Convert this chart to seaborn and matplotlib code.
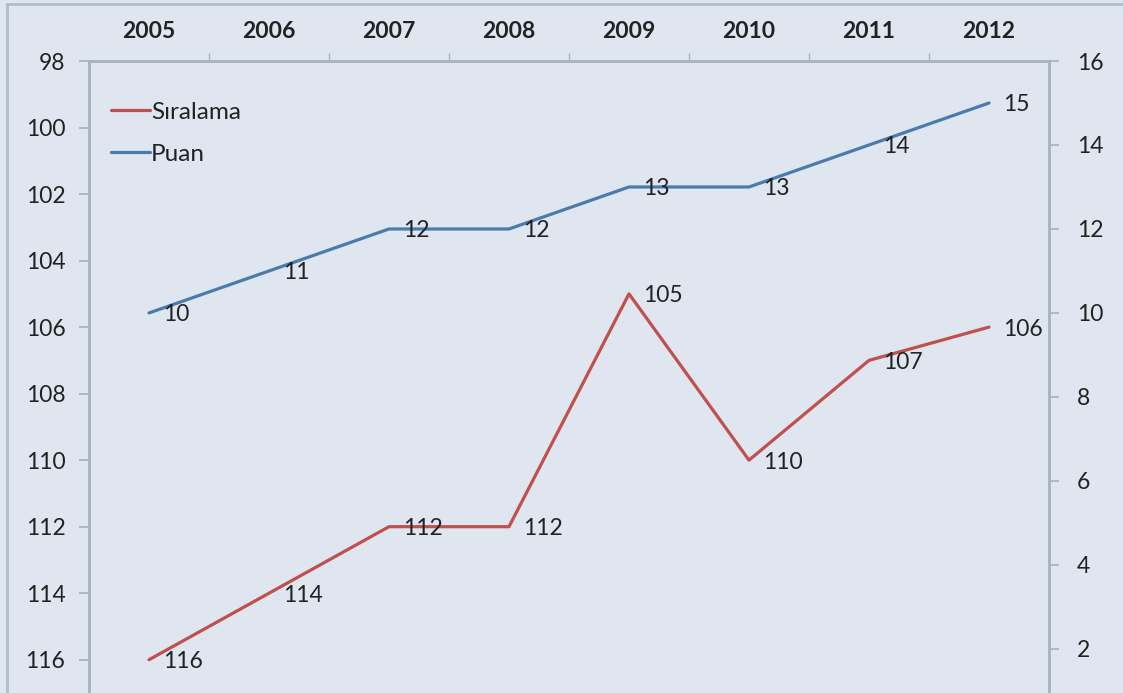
import numpy as np
import pandas as pd
import matplotlib
matplotlib.use("Agg")
import matplotlib.pyplot as plt
import seaborn as sns
from matplotlib.patches import Rectangle

years = ["2005", "2006", "2007", "2008", "2009", "2010", "2011", "2012"]
siralama = [116, 114, 112, 112, 105, 110, 107, 106]
puan = [10, 11, 12, 12, 13, 13, 14, 15]

bg = "#dfe6f0"
red = "#c0504d"
blue = "#4a7bae"
spine_c = "#a8b2c0"
txt = "#222222"

sns.set_theme(style="white")
plt.rcParams["font.family"] = ["Lato", "DejaVu Sans"]

df = pd.DataFrame({"x": np.arange(len(years)), "Sıralama": siralama, "Puan": puan})

fig = plt.figure(figsize=(11.23, 6.93), dpi=100, facecolor=bg)
ax = fig.add_axes([89 / 1123, 0.0, 960 / 1123, 1 - 61 / 693])
ax.set_facecolor(bg)
ax2 = ax.twinx()

sns.lineplot(data=df, x="x", y="Sıralama", ax=ax, color=red, linewidth=2.3, label="Sıralama", legend=False)
sns.lineplot(data=df, x="x", y="Puan", ax=ax2, color=blue, linewidth=2.3, label="Puan", legend=False)

ax.set_xlim(-0.5, len(years) - 0.5)
ax.set_ylim(117, 98)
ax2.set_ylim(0.95, 16)

ax.set_yticks(range(98, 117, 2))
ax2.set_yticks(range(2, 17, 2))

ax.xaxis.tick_top()
ax.set_xticks(range(len(years)))
ax.set_xticklabels(years, fontsize=16.5, fontweight="bold", color=txt)
ax.set_xticks(np.arange(0.5, len(years) - 1, 1), minor=True)
ax.tick_params(axis="x", which="major", length=0, pad=14)
ax.tick_params(axis="x", which="minor", top=True, length=6, color=spine_c, width=1)
ax.tick_params(axis="y", left=True, length=7, color=spine_c, labelsize=16.5, labelcolor=txt, pad=10)
ax2.tick_params(axis="y", right=True, length=7, color=spine_c, labelsize=16.5, labelcolor=txt, pad=13)

ax.set_xlabel("")
ax.set_ylabel("")
ax2.set_ylabel("")
for a in (ax, ax2):
    for s in a.spines.values():
        s.set_color(spine_c)
        s.set_linewidth(1.8)
    a.spines["bottom"].set_visible(False)

for i, v in enumerate(siralama):
    ax.annotate(str(v), (i, v), xytext=(14, -2), textcoords="offset pixels",
                ha="left", va="center", fontsize=16.5, color=txt)
for i, v in enumerate(puan):
    ax2.annotate(str(v), (i, v), xytext=(14, -2), textcoords="offset pixels",
                 ha="left", va="center", fontsize=16.5, color=txt)

h1, l1 = ax.get_legend_handles_labels()
h2, l2 = ax2.get_legend_handles_labels()
leg = ax2.legend(h1 + h2, l1 + l2, loc="upper left", bbox_to_anchor=(0.0, 0.97),
                 frameon=False, fontsize=17.5, handlelength=1.6, handletextpad=0.05,
                 labelspacing=0.85, labelcolor=txt)

fig.patches.append(Rectangle((7 / 1123, -0.05), 1.2, 1.05 - 4 / 693, transform=fig.transFigure,
                             fill=False, edgecolor="#b4bcc8", linewidth=2))

fig.savefig("out.png", dpi=100, facecolor=bg)
